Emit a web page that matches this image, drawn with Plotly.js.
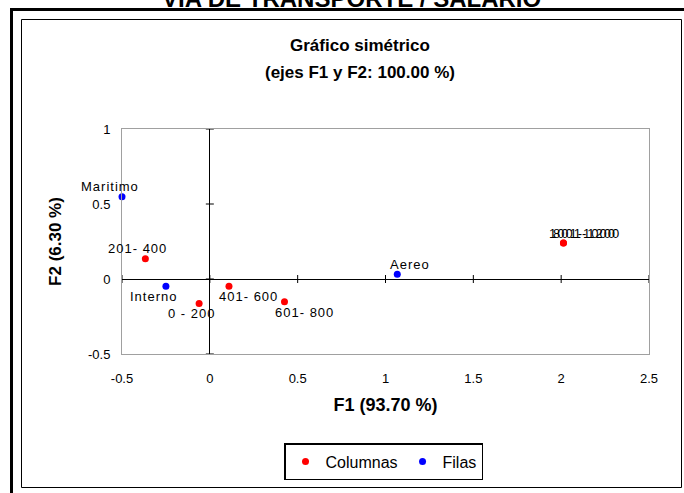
<!DOCTYPE html>
<html>
<head>
<meta charset="utf-8">
<script src="https://cdn.plot.ly/plotly-3.0.1.min.js"></script>
<style>html,body{margin:0;padding:0;background:#fff;}#chart{width:684px;height:493px;}</style>
</head>
<body>
<div id="chart"></div>
<script>
// ---- data ----
const xTicks = [-0.5, 0, 0.5, 1, 1.5, 2, 2.5];
const xTickText = ['-0.5', '0', '0.5', '1', '1.5', '2', '2.5'];
const yTicks = [-0.5, 0, 0.5, 1];
const yTickText = ['-0.5', '0', '0.5', '1'];

const colLabels = ['0 - 200', '201- 400', '401- 600', '601- 800', '801-1000', '1001-1200'];
const colF1 = [-0.061, -0.367, 0.109, 0.425, 2.013, 2.013];
const colF2 = [-0.163, 0.135, -0.048, -0.152, 0.24, 0.24];

const rowLabels = ['Aereo', 'Interno', 'Maritimo'];
const rowF1 = [1.067, -0.25, -0.5];
const rowF2 = [0.031, -0.048, 0.548];

// label offsets in pixels [dx, dy]
const colShift = [[-8, -10], [-8, 10], [20, -10], [20, -11], [21, 10], [21, 10]];
const rowShift = [[13, 10], [-12, -10], [-12, 10]];

const FONT = 'Liberation Sans, Arial, sans-serif';
const spaced = t => '<span style="letter-spacing:1px">' + t + '</span>';

// ---- geometry helpers (paper coords from pixel) ----
const W = 684, H = 493, ML = 122, MR = 35, MT = 129, MB = 139;
const PW = W - ML - MR, PH = H - MT - MB;
const px = v => (v - ML) / PW;
const py = v => (H - MB - v) / PH;

const traces = [
  {type: 'scatter', mode: 'markers', name: 'Columnas', x: colF1, y: colF2, cliponaxis: false,
   marker: {color: '#ff0000', size: 7}, hoverinfo: 'skip'},
  {type: 'scatter', mode: 'markers', name: 'Filas', x: rowF1, y: rowF2, cliponaxis: false,
   marker: {color: '#0000ff', size: 7}, hoverinfo: 'skip'}
];

const annotations = [];
colLabels.forEach((t, i) => annotations.push({
  x: colF1[i], y: colF2[i], xref: 'x', yref: 'y', text: spaced(t), showarrow: false,
  xshift: colShift[i][0], yshift: colShift[i][1], xanchor: 'center', yanchor: 'middle',
  font: {family: FONT, size: 13, color: '#000'}
}));
rowLabels.forEach((t, i) => annotations.push({
  x: rowF1[i], y: rowF2[i], xref: 'x', yref: 'y', text: spaced(t), showarrow: false,
  xshift: rowShift[i][0], yshift: rowShift[i][1], xanchor: 'center', yanchor: 'middle',
  font: {family: FONT, size: 13, color: '#000'}
}));
// titles
annotations.push({xref: 'paper', yref: 'paper', x: px(351), y: py(14), xanchor: 'center', yanchor: 'bottom',
  text: '<b>VIA DE TRANSPORTE / SALARIO</b>', showarrow: false, font: {family: FONT, size: 24, color: '#000'}});
annotations.push({xref: 'paper', yref: 'paper', x: px(360), y: py(45), xanchor: 'center', yanchor: 'middle',
  text: '<b>Gráfico simétrico</b>', showarrow: false, font: {family: FONT, size: 17, color: '#000'}});
annotations.push({xref: 'paper', yref: 'paper', x: px(360), y: py(73), xanchor: 'center', yanchor: 'middle',
  text: '<b>(ejes F1 y F2: 100.00 %)</b>', showarrow: false, font: {family: FONT, size: 17, color: '#000'}});

const shapes = [];
// frames
shapes.push({type: 'rect', xref: 'paper', yref: 'paper', x0: px(21.5), x1: px(681.5), y0: py(487.5), y1: py(19.5),
  line: {color: '#000', width: 1}, layer: 'below'});
shapes.push({type: 'rect', xref: 'paper', yref: 'paper', x0: px(11.5), x1: px(720), y0: py(540), y1: py(9.5),
  line: {color: '#000', width: 3}, layer: 'below'});
// cross ticks on zero lines
xTicks.forEach(v => shapes.push({type: 'line', xref: 'x', yref: 'y', x0: v, x1: v,
  ysizemode: 'pixel', yanchor: 0, y0: -4, y1: 4, line: {color: '#000', width: 1}}));
yTicks.forEach(v => shapes.push({type: 'line', xref: 'x', yref: 'y', y0: v, y1: v,
  xsizemode: 'pixel', xanchor: 0, x0: -4, x1: 4, line: {color: '#000', width: 1}}));

const layout = {
  width: W, height: H, autosize: false,
  margin: {l: ML, r: MR, t: MT, b: MB, pad: 0},
  paper_bgcolor: '#fff', plot_bgcolor: '#fff',
  font: {family: FONT, color: '#000'},
  showlegend: true,
  legend: {orientation: 'h', x: px(383.5), xanchor: 'center', y: py(443), yanchor: 'top',
    bordercolor: '#000', borderwidth: 1.5, bgcolor: '#fff',
    font: {family: FONT, size: 16, color: '#000'}, itemwidth: 30},
  xaxis: {range: [-0.5, 2.5], tickvals: xTicks, ticktext: xTickText,
    showgrid: false, zeroline: true, zerolinecolor: '#000', zerolinewidth: 1,
    showline: true, mirror: true, linecolor: '#a0a0a0', linewidth: 1,
    ticks: 'outside', ticklen: 12, tickcolor: 'rgba(0,0,0,0)',
    tickfont: {family: FONT, size: 13, color: '#000'},
    title: {text: '<b>F1 (93.70 %)</b>', font: {family: FONT, size: 18, color: '#000'}, standoff: 13},
    fixedrange: true},
  yaxis: {range: [-0.5, 1], tickvals: yTicks, ticktext: yTickText,
    showgrid: false, zeroline: true, zerolinecolor: '#000', zerolinewidth: 1,
    showline: true, mirror: true, linecolor: '#a0a0a0', linewidth: 1,
    ticks: 'outside', ticklen: 8, tickcolor: 'rgba(0,0,0,0)',
    tickfont: {family: FONT, size: 13, color: '#000'},
    title: {text: '<b>F2 (6.30 %)</b>', font: {family: FONT, size: 17, color: '#000'}, standoff: 22},
    fixedrange: true},
  annotations: annotations,
  shapes: shapes
};

Plotly.newPlot('chart', traces, layout, {displayModeBar: false, staticPlot: true});
</script>
</body>
</html>
